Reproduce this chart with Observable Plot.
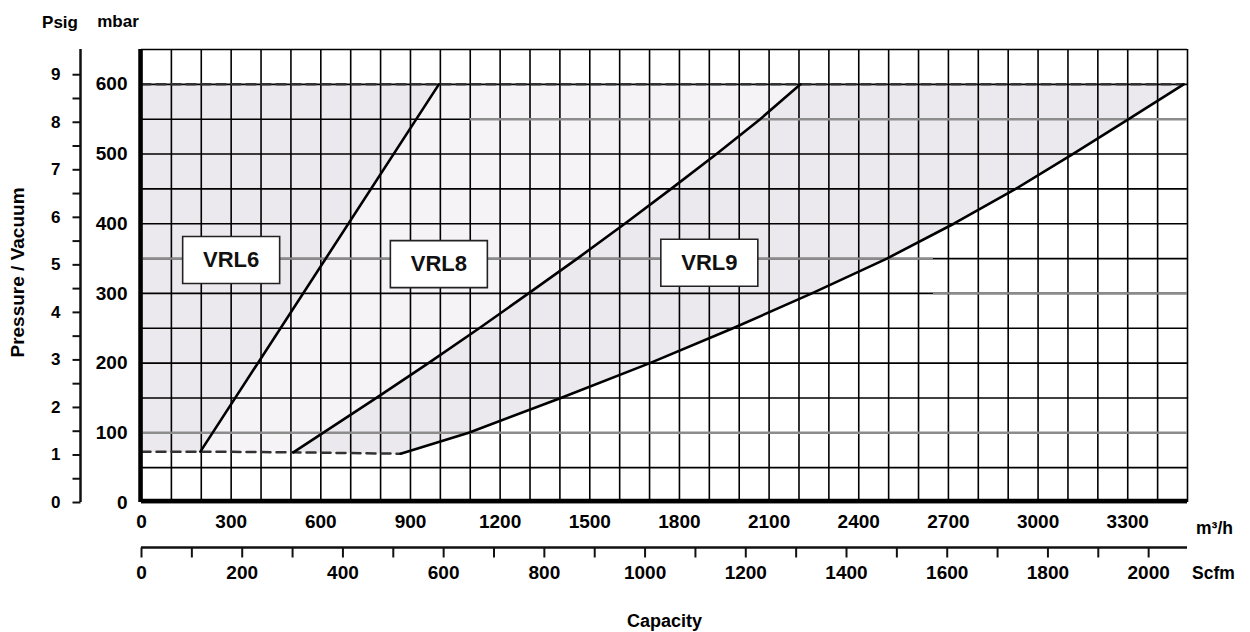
<!DOCTYPE html>
<html><head><meta charset="utf-8">
<script src="https://cdn.jsdelivr.net/npm/d3@7"></script>
<script src="https://cdn.jsdelivr.net/npm/@observablehq/plot@0.6"></script>
<style>
html,body{margin:0;padding:0;background:#fff;}
svg{display:block;}
</style></head><body><div id="chart"></div>
<script>
// ---- data ----
const m3hLabels = [0,300,600,900,1200,1500,1800,2100,2400,2700,3000,3300];
const scfmTicks = [0,100,200,300,400,500,600,700,800,900,1000,1100,1200,1300,1400,1500,1600,1700,1800,1900,2000];
const scfmLabels = [0,200,400,600,800,1000,1200,1400,1600,1800,2000];
const mbarLabels = [0,100,200,300,400,500,600];
const psigTicks = [0,0.5,1,1.5,2,2.5,3,3.5,4,4.5,5,5.5,6,6.5,7,7.5,8,8.5,9];
const psigLabels = [0,1,2,3,4,5,6,7,8,9];
const gridCap = d3.range(0, 3501, 100);
const gridMbar = d3.range(0, 651, 50);

// model curves: capacity m3/h vs pressure mbar
const vrl6Cap  = [197, 995];
const vrl6Mbar = [73, 600];
const vrl8Cap  = [508, 786, 960, 1130, 1295, 1458, 1617, 1772, 1924, 2070, 2205];
const vrl8Mbar = [72, 150, 200, 250, 300, 350, 400, 450, 500, 550, 600];
const vrl9Cap  = [867, 1095, 1403, 1701, 1979, 2243, 2494, 2718, 2925, 3116, 3303, 3487];
const vrl9Mbar = [70, 100, 150, 200, 250, 300, 350, 400, 450, 500, 550, 600];
// dashed limits
const lowCap  = [0, 197, 508, 867];
const lowMbar = [73, 73, 72, 70];
const highCap = [0, 3487];
const highMbar = [600, 600];
// model labels
const modelNames = ["VRL6", "VRL8", "VRL9"];
const modelCap = [300, 995, 1900];
const modelMbar = [348, 342, 344];
// darker grid rows (as seen in the picture)
const grayRowMbar = [100, 550, 350, 300];
const grayRowFrom = [0, 1100, 0, 2650];
const grayRowTo   = [3500, 3500, 2650, 3500];

const SCFM_TO_M3H = 1.685;   // as read between the two capacity scales
const PSIG_TO_MBAR = 68.2;   // as read between the two pressure scales

const zip = (xs, ys) => xs.map((x, i) => ({x, y: ys[i]}));
const vrl6 = zip(vrl6Cap, vrl6Mbar);
const vrl8 = zip(vrl8Cap, vrl8Mbar);
const vrl9 = zip(vrl9Cap, vrl9Mbar);
const low = zip(lowCap, lowMbar);
const high = zip(highCap, highMbar);
const region6 = [{x: 0, y: lowMbar[0]}, ...vrl6, {x: 0, y: 600}];
const region8 = [...vrl8, ...vrl6.slice().reverse()];
const region9 = [...vrl9, ...vrl8.slice().reverse()];
const models = modelNames.map((name, i) => ({name, x: modelCap[i], y: modelMbar[i]}));
const grayRows = grayRowMbar.map((y, i) => ({y, x1: grayRowFrom[i], x2: grayRowTo[i]}));

const boxSymbol = {draw(ctx) { ctx.rect(-48.5, -23.5, 97, 47); }};
const hTick = {draw(ctx) { ctx.moveTo(-8, 0); ctx.lineTo(0, 0); }};
const vTick = {draw(ctx) { ctx.moveTo(0, 0); ctx.lineTo(0, 10); }};

const font = "'Liberation Sans', Arial, sans-serif";
const DARK = "#ece9ee", LIGHT = "#f5f3f6";
const num = d => String(d);
const label = (t, o) => Plot.text([t], {textAnchor: "middle", lineAnchor: "middle", fontWeight: "bold", ...o});

const chart = Plot.plot({
  width: 1250, height: 632,
  marginLeft: 141, marginRight: 63, marginTop: 49, marginBottom: 130,
  x: {domain: [0, 3500], axis: null},
  y: {domain: [0, 650], axis: null},
  style: {fontFamily: font, fontWeight: "bold", color: "#000", background: "#fff", overflow: "visible"},
  marks: [
    Plot.line(region6, {x: "x", y: "y", fill: DARK, stroke: "none"}),
    Plot.line(region8, {x: "x", y: "y", fill: LIGHT, stroke: "none"}),
    Plot.line(region9, {x: "x", y: "y", fill: DARK, stroke: "none"}),
    Plot.ruleX(gridCap, {stroke: "#000", strokeWidth: 1.6}),
    Plot.ruleY(gridMbar, {stroke: "#000", strokeWidth: 1.6}),
    Plot.ruleY(grayRows, {y: "y", x1: "x1", x2: "x2", stroke: "#8c8c8c", strokeWidth: 2.4}),
    Plot.line(low, {x: "x", y: "y", stroke: "#333", strokeWidth: 2.5, strokeDasharray: "9,6"}),
    Plot.line(high, {x: "x", y: "y", stroke: "#333", strokeWidth: 2.5, strokeDasharray: "9,6"}),
    Plot.line(vrl6, {x: "x", y: "y", stroke: "#000", strokeWidth: 2.6}),
    Plot.line(vrl8, {x: "x", y: "y", stroke: "#000", strokeWidth: 2.6}),
    Plot.line(vrl9, {x: "x", y: "y", stroke: "#000", strokeWidth: 2.6}),
    // thick frame edges
    Plot.ruleX([0], {stroke: "#000", strokeWidth: 4.5, dx: -1}),
    Plot.ruleY([0], {stroke: "#000", strokeWidth: 4.5, dy: -1.5}),
    // model boxes
    Plot.dot(models, {x: "x", y: "y", symbol: boxSymbol, r: 5, fill: "#fff", stroke: "#222", strokeWidth: 1.6}),
    Plot.text(models, {x: "x", y: "y", text: "name", fontSize: 22, fontWeight: "bold", fill: "#111"}),
    // m3/h labels
    Plot.text(m3hLabels, {x: d => d, y: () => 0, text: num, dy: 19, fontSize: 19}),
    label("m³/h", {frameAnchor: "bottom-right", dx: 27, dy: 26, fontSize: 17.5}),
    // scfm axis
    Plot.ruleY([0], {stroke: "#111", strokeWidth: 2.5, dy: 45}),
    Plot.dot(scfmTicks, {x: d => d * SCFM_TO_M3H, y: () => 0, dy: 45, symbol: vTick, r: 5, fill: "none", stroke: "#111", strokeWidth: 2}),
    Plot.text(scfmLabels, {x: d => d * SCFM_TO_M3H, y: () => 0, text: num, dy: 70, fontSize: 19}),
    label("Scfm", {frameAnchor: "bottom-right", dx: 26, dy: 71, fontSize: 17.5}),
    label("Capacity", {frameAnchor: "bottom", dy: 119, fontSize: 18}),
    // mbar labels
    Plot.text(mbarLabels, {x: () => 0, y: d => d, text: num, dx: -14, textAnchor: "end", fontSize: 19}),
    label("mbar", {frameAnchor: "top-left", dx: -23.5, dy: -28, fontSize: 17}),
    // psig axis
    Plot.ruleX([0], {y1: 0, y2: 650, dx: -61, stroke: "#111", strokeWidth: 2.5}),
    Plot.dot(psigTicks, {x: () => 0, y: d => d * PSIG_TO_MBAR, dx: -61, symbol: hTick, r: 5, fill: "none", stroke: "#111", strokeWidth: 2}),
    Plot.text(psigLabels, {x: () => 0, y: d => d * PSIG_TO_MBAR, text: num, dx: -81, textAnchor: "end", fontSize: 17}),
    label("Psig", {frameAnchor: "top-left", dx: -81.5, dy: -27, fontSize: 17}),
    label("Pressure / Vacuum", {frameAnchor: "left", dx: -124, dy: -3.5, rotate: -90, fontSize: 19})
  ]
});
document.getElementById("chart").appendChild(chart);
</script>
</body></html>
